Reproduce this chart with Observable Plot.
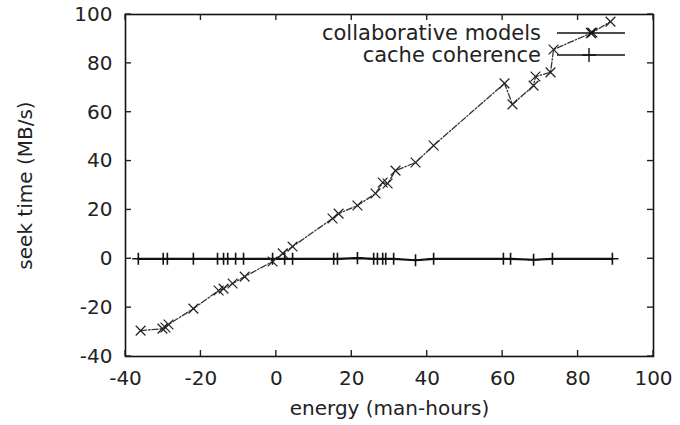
<!DOCTYPE html>
<html>
<head>
<meta charset="utf-8">
<script src="https://cdn.jsdelivr.net/npm/d3@7"></script>
<script src="https://cdn.jsdelivr.net/npm/@observablehq/plot@0.6"></script>
<style>
  html, body { margin: 0; padding: 0; background: #fff; }
  #chart { width: 680px; height: 425px; }
</style>
</head>
<body>
<div id="chart"></div>
<script>
// Series: collaborative models (x markers)
const collabX = [-36.0, -30.2, -29.4, -28.6, -22.0, -15.3, -14.0, -11.6, -8.4, -1.0, 1.7, 4.3, 14.9, 16.5, 21.5, 26.3, 28.2, 29.5, 31.6, 36.9, 41.7, 60.5, 62.6, 68.2, 68.7, 72.7, 73.5, 83.8, 88.6];
const collabY = [-29.4, -28.6, -28.1, -26.9, -20.4, -13.0, -12.2, -10.1, -7.3, -1.1, 2.2, 5.0, 16.5, 18.5, 21.8, 26.7, 31.2, 30.8, 36.1, 39.4, 46.4, 71.8, 63.2, 70.9, 74.6, 76.3, 85.7, 92.6, 97.1];
// Series: cache coherence (+ markers)
const cacheX = [-36.6, -30.0, -28.9, -22.0, -15.6, -14.0, -12.9, -10.8, -8.7, -1.0, 2.2, 4.3, 15.2, 16.2, 21.5, 25.8, 26.8, 28.2, 29.0, 31.1, 36.9, 41.7, 60.2, 62.1, 68.2, 73.2, 89.1];
const cacheY = [0, 0, 0, 0, 0, 0, 0, 0, 0, 0, 0, 0, 0, 0, 0.3, 0, 0, 0, 0, 0, -0.6, 0, 0, 0, -0.4, 0, 0];

const xTicks = [-40, -20, 0, 20, 40, 60, 80, 100];
const yTicks = [-40, -20, 0, 20, 40, 60, 80, 100];
const seriesNames = ["collaborative models", "cache coherence"];

const collab = collabX.map((x, i) => ({x, y: collabY[i]}));
const cache = cacheX.map((x, i) => ({x, y: cacheY[i]}));

const FONT = "DejaVu Sans, sans-serif";
const FS = 20;
const TICK = 6;
const fmt = d => String(d);

const plot = Plot.plot({
  width: 680,
  height: 425,
  marginLeft: 125,
  marginRight: 27,
  marginTop: 14,
  marginBottom: 69,
  style: {fontFamily: FONT, fontSize: FS + "px", color: "#222", background: "#fff"},
  x: {domain: [-40, 100]},
  y: {domain: [-40, 100]},
  marks: [
    Plot.axisX(xTicks, {anchor: "bottom", tickSize: 0, tickPadding: 14, fontSize: FS, tickFormat: fmt, label: "energy (man-hours)", labelAnchor: "center", labelOffset: 58, labelArrow: "none"}),
    Plot.axisY(yTicks, {anchor: "left", tickSize: 0, tickPadding: 13, fontSize: FS, tickFormat: fmt, label: "seek time (MB/s)", labelAnchor: "center", labelOffset: 108, labelArrow: "none"}),
    // data
    Plot.line(cache, {x: "x", y: "y", stroke: "#111", strokeWidth: 2.2}),
    Plot.dot(cache, {x: "x", y: "y", symbol: "plus", r: 4, stroke: "#111", strokeWidth: 1.6}),
    Plot.line(collab, {x: "x", y: "y", stroke: "#333", strokeWidth: 1.3, strokeDasharray: "6,2,1.5,2"}),
    Plot.dot(collab, {x: "x", y: "y", symbol: "times", r: 4.5, stroke: "#222", strokeWidth: 1.2}),
    Plot.frame({stroke: "#111", strokeWidth: 1.6})
  ]
});

document.getElementById("chart").appendChild(plot);

const svg = d3.select(plot);
const sx = plot.scale("x"), sy = plot.scale("y");
const [x0, x1] = sx.range, [y0, y1] = sy.range; // y0 bottom, y1 top

// Inward ticks on all four sides (mirrored, gnuplot style)
const tg = svg.append("g").attr("stroke", "#222").attr("stroke-width", 1.4);
xTicks.forEach(v => {
  const px = sx.apply(v);
  tg.append("line").attr("x1", px).attr("x2", px).attr("y1", y0).attr("y2", y0 - TICK);
  tg.append("line").attr("x1", px).attr("x2", px).attr("y1", y1).attr("y2", y1 + TICK);
});
yTicks.forEach(v => {
  const py = sy.apply(v);
  tg.append("line").attr("y1", py).attr("y2", py).attr("x1", x0).attr("x2", x0 + TICK);
  tg.append("line").attr("y1", py).attr("y2", py).attr("x1", x1).attr("x2", x1 - TICK);
});

// Legend (top-right, inside the frame)
const lg = svg.append("g").attr("font-family", FONT).attr("font-size", 21).attr("fill", "#222");
const legendRows = [
  {name: seriesNames[0], y: 33, symbol: d3.symbolTimes, mx: 591},
  {name: seriesNames[1], y: 55, symbol: d3.symbolPlus, mx: 589}
];
legendRows.forEach(r => {
  lg.append("text").attr("x", 541).attr("y", r.y).attr("dy", "0.35em").attr("text-anchor", "end").text(r.name);
  lg.append("line").attr("x1", 557).attr("x2", 625).attr("y1", r.y).attr("y2", r.y).attr("stroke", "#111").attr("stroke-width", 1.6);
  lg.append("path").attr("transform", `translate(${r.mx},${r.y})`).attr("d", d3.symbol(r.symbol, 64)()).attr("fill", "none").attr("stroke", "#111").attr("stroke-width", 1.4);
});
</script>
</body>
</html>
